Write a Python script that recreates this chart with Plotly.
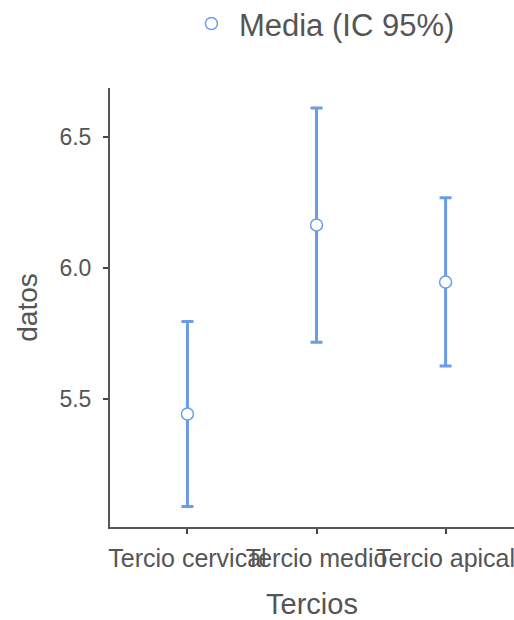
import plotly.graph_objects as go

categorias = ["Tercio cervical", "Tercio medio", "Tercio apical"]
medias = [5.443, 6.164, 5.947]
ic_error = [0.353, 0.447, 0.321]

azul = "#6c9be8"
gris = "#555555"

fig = go.Figure()

# medias con su intervalo de confianza
fig.add_trace(go.Scatter(
    x=categorias,
    y=medias,
    mode="markers",
    name="Media (IC 95%)",
    marker=dict(symbol="circle", size=12, color="white",
                line=dict(color=azul, width=1.5)),
    error_y=dict(type="data", array=ic_error, visible=True,
                 color=azul, thickness=3, width=6),
))

fig.update_layout(
    width=514, height=620,
    plot_bgcolor="white", paper_bgcolor="white",
    margin=dict(l=110, r=0, t=88, b=93, autoexpand=False),
    font=dict(family="Liberation Sans, Arial, sans-serif", color=gris),
    showlegend=True,
    legend=dict(orientation="h", x=0.183, xanchor="left", y=1.146, yanchor="middle",
                itemwidth=45, font=dict(size=31, color=gris)),
)

fig.update_xaxes(
    title=dict(text="Tercios", font=dict(size=29, color=gris), standoff=24),
    range=[-0.6, 2.53], automargin=False, tickangle=0,
    showline=True, linecolor="#555555", linewidth=2,
    ticks="outside", ticklen=5, tickwidth=2, tickcolor="#444444",
    tickfont=dict(size=25, color=gris), ticklabelstandoff=3,
    showgrid=False, zeroline=False,
)

fig.update_yaxes(
    title=dict(text="datos", font=dict(size=28, color=gris), standoff=14),
    range=[5.012, 6.687], automargin=False,
    tickvals=[5.5, 6.0, 6.5], tickformat=".1f", ticklabelstandoff=7,
    showline=True, linecolor="#555555", linewidth=2,
    ticks="outside", ticklen=5, tickwidth=2, tickcolor="#444444",
    tickfont=dict(size=23, color=gris),
    showgrid=False, zeroline=False,
)

# drop the default 8px body margin so the figure fills the window exactly
fig.write_html("out.html", config={"displayModeBar": False},
               post_script="document.body.style.margin = '0';")
